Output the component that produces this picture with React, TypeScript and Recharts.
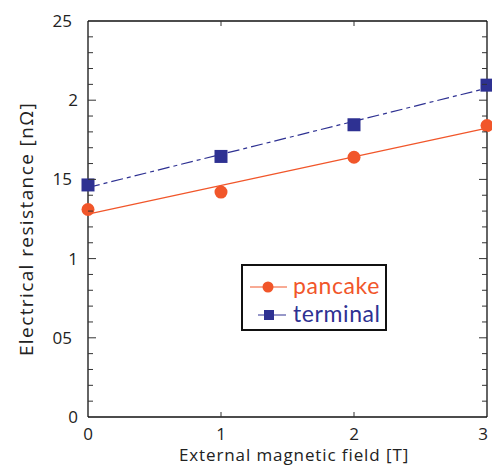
import React from "react";
import {
  ScatterChart,
  Scatter,
  XAxis,
  YAxis,
  Legend,
} from "recharts";

const FIELD = [0, 1, 2, 3];
const PANCAKE = [1.31, 1.42, 1.64, 1.84];
const TERMINAL = [1.465, 1.645, 1.845, 2.095];

const X_TICKS = [0, 1, 2, 3];
const Y_MAJOR = [0, 0.5, 1, 1.5, 2, 2.5];
const Y_LABELS = ["0", "05", "1", "15", "2", "25"];
const Y_MINOR = Array.from({ length: 26 }, (_, i) => i / 10);

const RED = "#f1562a";
const BLUE = "#2e3192";
const FONT = "'Open Sans', sans-serif";

const pancakeData = FIELD.map((x, i) => ({ x, y: PANCAKE[i] }));
const terminalData = FIELD.map((x, i) => ({ x, y: TERMINAL[i] }));

const isMajor = (v: number) => Y_MAJOR.some((m) => Math.abs(m - v) < 1e-6);

function LeftTick(props: any) {
  const { x, y, payload } = props;
  const v = payload.value;
  const major = isMajor(v);
  const idx = Y_MAJOR.findIndex((m) => Math.abs(m - v) < 1e-6);
  const label = idx >= 0 ? Y_LABELS[idx] : null;
  return (
    <g>
      {v > 0 && v < 2.5 && (
        <line x1={x} x2={x + (major ? 8 : 5)} y1={y} y2={y} stroke="#333" />
      )}
      {label && (
        <text
          x={x - (label.length > 1 ? 16 : 10)}
          y={y}
          dy="0.35em"
          textAnchor="end"
          fontSize={17}
          fontFamily={FONT}
          fill="#222"
        >
          {label}
        </text>
      )}
    </g>
  );
}

function RightTick(props: any) {
  const { x, y, payload } = props;
  const v = payload.value;
  if (v <= 0 || v >= 2.5) return <g />;
  return <line x1={x} x2={x - (isMajor(v) ? 8 : 5)} y1={y} y2={y} stroke="#333" />;
}

function BottomTick(props: any) {
  const { x, y, payload } = props;
  const v = payload.value;
  const last = v === X_TICKS[X_TICKS.length - 1];
  return (
    <g>
      {v > 0 && v < 3 && <line x1={x} x2={x} y1={y} y2={y - 5} stroke="#333" />}
      <text
        x={last ? x + 1 : x}
        y={y + 23}
        textAnchor={last ? "end" : "middle"}
        fontSize={17}
        fontFamily={FONT}
        fill="#222"
      >
        {v}
      </text>
    </g>
  );
}

function TopTick(props: any) {
  const { x, y, payload } = props;
  const v = payload.value;
  if (v <= 0 || v >= 3) return <g />;
  return <line x1={x} x2={x} y1={y} y2={y + 5} stroke="#333" />;
}

const Dot = (props: any) => <circle cx={props.cx} cy={props.cy} r={6.5} fill={RED} />;
const Box = (props: any) => (
  <rect x={props.cx - 6.5} y={props.cy - 6.5} width={13} height={13} fill={BLUE} />
);

function LegendBox() {
  return (
    <svg width={142} height={63} style={{ display: "block" }}>
      <line x1={7} x2={44} y1={21} y2={21} stroke={RED} strokeWidth={1} />
      <circle cx={25} cy={21} r={5.5} fill={RED} />
      <text x={50} y={28} fontSize={23} fontFamily="Lato, sans-serif" letterSpacing={0.6} fill={RED}>
        pancake
      </text>
      <line x1={15} x2={43} y1={49} y2={49} stroke={BLUE} strokeWidth={1} />
      <rect x={21} y={44} width={10} height={10} fill={BLUE} />
      <text x={50} y={56} fontSize={23} fontFamily="Lato, sans-serif" letterSpacing={0.6} fill={BLUE}>
        terminal
      </text>
    </svg>
  );
}

export default function App() {
  return (
    <div style={{ position: "absolute", left: 0, top: 0, width: 492, height: 475, overflow: "hidden" }}>
      <ScatterChart
        width={492}
        height={475}
        margin={{ top: 20, right: 4, left: 0, bottom: 0 }}
      >
        <XAxis
          type="number"
          dataKey="x"
          domain={[0, 3]}
          ticks={X_TICKS}
          height={58}
          stroke="#111"
          strokeWidth={1.3}
          tickSize={0}
          tickMargin={0}
          tick={<BottomTick />}
          label={{
            value: "External magnetic field [T]",
            content: () => (
              <text
                x={294}
                y={461}
                textAnchor="middle"
                fontSize={17}
                letterSpacing={0.9}
                fontFamily={FONT}
                fill="#222"
              >
                External magnetic field [T]
              </text>
            ),
          }}
        />
        <XAxis
          xAxisId="top"
          orientation="top"
          type="number"
          dataKey="x"
          domain={[0, 3]}
          ticks={X_TICKS}
          height={1}
          stroke="#111"
          strokeWidth={1.3}
          tickSize={0}
          tickMargin={0}
          tick={<TopTick />}
        />
        <YAxis
          type="number"
          dataKey="y"
          domain={[0, 2.5]}
          ticks={Y_MINOR}
          interval={0}
          width={88}
          stroke="#111"
          strokeWidth={1.3}
          tickSize={0}
          tickMargin={0}
          tick={<LeftTick />}
          label={{
            value: "Electrical resistance [nΩ]",
            content: () => (
              <text
                x={26}
                y={229}
                transform="rotate(-90 26 229)"
                textAnchor="middle"
                dominantBaseline="central"
                fontSize={19}
                letterSpacing={1.4}
                fontFamily={FONT}
                fill="#222"
              >
                Electrical resistance [nΩ]
              </text>
            ),
          }}
        />
        <YAxis
          yAxisId="right"
          orientation="right"
          type="number"
          dataKey="y"
          domain={[0, 2.5]}
          ticks={Y_MINOR}
          interval={0}
          width={1}
          stroke="#111"
          strokeWidth={1.3}
          tickSize={0}
          tickMargin={0}
          tick={<RightTick />}
        />
        <Legend
          layout="horizontal"
          verticalAlign="middle"
          content={() => <LegendBox />}
          wrapperStyle={{
            left: 241,
            top: 264,
            width: 146,
            height: 67,
            border: "2px solid #111",
            boxSizing: "border-box",
            background: "#fff",
          }}
        />
        <Scatter
          name="pancake"
          data={pancakeData}
          fill={RED}
          shape={<Dot />}
          line={{ stroke: RED, strokeWidth: 1.2 }}
          lineType="fitting"
          isAnimationActive={false}
        />
        <Scatter
          name="terminal"
          data={terminalData}
          xAxisId="top"
          yAxisId="right"
          fill={BLUE}
          shape={<Box />}
          line={{ stroke: BLUE, strokeWidth: 1.2, strokeDasharray: "12 4 4 4" }}
          lineType="fitting"
          isAnimationActive={false}
        />
      </ScatterChart>
    </div>
  );
}
